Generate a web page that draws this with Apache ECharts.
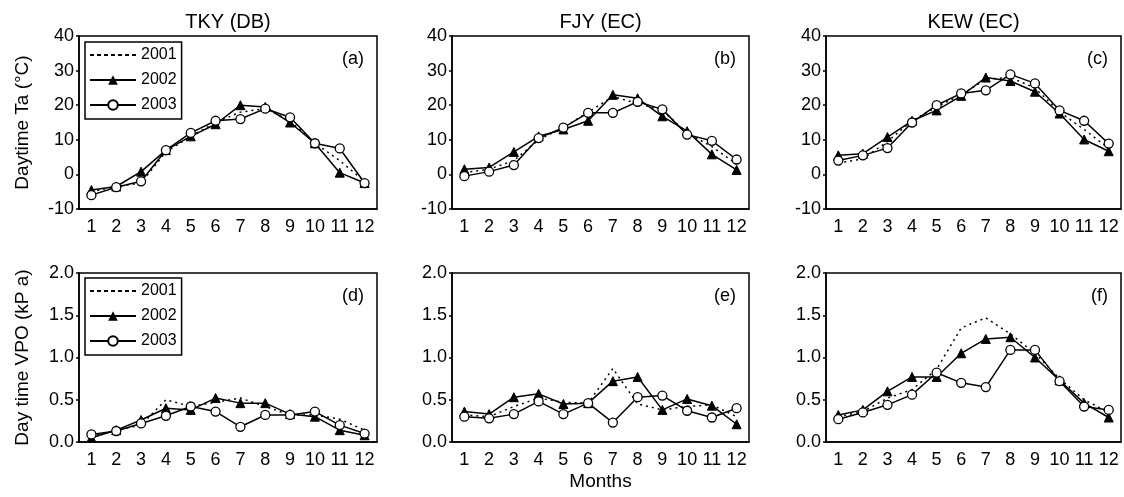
<!DOCTYPE html>
<html>
 <head>
  <title>Daytime Ta and VPD by month</title>
  <script src="https://cdn.jsdelivr.net/npm/echarts@6/dist/echarts.min.js"></script>
  <style>
    html, body, #container {
    width: 100%;
    height: 100%;
    margin: 0;
    padding: 0;
    background: #fff;
    }
  </style>
 </head>

<body>
  <div id="container"></div>
  <script>
    var months = ['1', '2', '3', '4', '5', '6', '7', '8', '9', '10', '11', '12'];
    var years = ['2001', '2002', '2003'];
    var sites = ['TKY (DB)', 'FJY (EC)', 'KEW (EC)'];
    var letters = ['(a)', '(b)', '(c)', '(d)', '(e)', '(f)'];
    var taTicks = [-10, 0, 10, 20, 30, 40];
    var vpdTicks = [0, 0.5, 1.0, 1.5, 2.0];

    // daytime air temperature (deg C)
    var taTky2001 = [-5, -3.5, -2.5, 6.5, 11, 15, 18, 19, 15.5, 9, 4, -2];
    var taTky2002 = [-4.5, -3.5, 0.8, 7, 11, 14.5, 20, 19.5, 15, 9, 0.5, -2.5];
    var taTky2003 = [-6, -3.7, -2, 7, 12, 15.5, 16, 19, 16.5, 9, 7.5, -2.5];

    var taFjy2001 = [0.5, 1.5, 4, 10, 13.5, 18, 22.5, 20.5, 18.5, 12, 8, 3];
    var taFjy2002 = [1.5, 2, 6.5, 11, 13, 15.5, 23, 22, 16.8, 12.5, 5.8, 1.3];
    var taFjy2003 = [-0.5, 0.8, 2.7, 10.5, 13.5, 17.8, 17.8, 21, 18.8, 11.5, 9.7, 4.3];

    var taKew2001 = [3.3, 4.5, 9.5, 15.5, 19.5, 23, 27.5, 28, 25, 18, 13, 7.5];
    var taKew2002 = [5.5, 6, 10.8, 15.5, 18.5, 22.7, 28, 27, 23.9, 17.6, 10.1, 6.7];
    var taKew2003 = [4, 5.5, 7.6, 15, 20, 23.4, 24.3, 28.9, 26.3, 18.5, 15.5, 8.9];

    // daytime vapour pressure deficit (kPa)
    var vpdTky2001 = [0.07, 0.14, 0.2, 0.5, 0.42, 0.47, 0.52, 0.42, 0.32, 0.32, 0.27, 0.14];
    var vpdTky2002 = [0.05, 0.14, 0.26, 0.4, 0.38, 0.52, 0.46, 0.46, 0.33, 0.3, 0.14, 0.08];
    var vpdTky2003 = [0.09, 0.13, 0.22, 0.31, 0.42, 0.36, 0.18, 0.32, 0.32, 0.36, 0.2, 0.1];

    var vpdFjy2001 = [0.32, 0.3, 0.42, 0.52, 0.47, 0.46, 0.87, 0.45, 0.38, 0.42, 0.44, 0.3];
    var vpdFjy2002 = [0.36, 0.33, 0.53, 0.57, 0.45, 0.46, 0.72, 0.77, 0.38, 0.51, 0.43, 0.21];
    var vpdFjy2003 = [0.3, 0.28, 0.33, 0.48, 0.33, 0.46, 0.23, 0.53, 0.55, 0.37, 0.29, 0.4];

    var vpdKew2001 = [0.3, 0.36, 0.52, 0.62, 0.86, 1.35, 1.47, 1.28, 1.05, 0.75, 0.5, 0.35];
    var vpdKew2002 = [0.32, 0.38, 0.6, 0.77, 0.77, 1.05, 1.22, 1.24, 1.0, 0.73, 0.46, 0.29];
    var vpdKew2003 = [0.27, 0.35, 0.44, 0.56, 0.82, 0.7, 0.65, 1.09, 1.09, 0.72, 0.42, 0.38];

    var panelData = [
      [taTky2001, taTky2002, taTky2003],
      [taFjy2001, taFjy2002, taFjy2003],
      [taKew2001, taKew2002, taKew2003],
      [vpdTky2001, vpdTky2002, vpdTky2003],
      [vpdFjy2001, vpdFjy2002, vpdFjy2003],
      [vpdKew2001, vpdKew2002, vpdKew2003]
    ];

    var font = 'Liberation Sans, Arial, sans-serif';
    var lefts = [79, 452, 826];
    var widths = [298, 297, 295];

    var chartDom = document.getElementById('container');
    var myChart = echarts.init(chartDom);

    var grids = [], xAxes = [], yAxes = [], series = [], titles = [];

    for (var i = 0; i < 6; i++) {
      var col = i % 3, row = Math.floor(i / 3);
      var gTop = row === 0 ? 36 : 273;
      var gHeight = row === 0 ? 173 : 169;
      var ticks = row === 0 ? taTicks : vpdTicks;

      grids.push({
        left: lefts[col], top: gTop, width: widths[col], height: gHeight,
        show: true, borderColor: '#000', borderWidth: 1.5, backgroundColor: '#fff'
      });

      xAxes.push({
        type: 'category', gridIndex: i, data: months, boundaryGap: true,
        axisLine: { onZero: false, lineStyle: { color: '#000', width: 1.5 } },
        axisTick: { inside: true, length: 4, lineStyle: { color: '#000', width: 1.5 } },
        axisLabel: { color: '#000', fontSize: 18, fontFamily: font, margin: 9, interval: 0 },
        name: i === 4 ? 'Months' : '',
        nameLocation: 'middle', nameGap: 30,
        nameTextStyle: { color: '#000', fontSize: 19, fontFamily: font }
      });

      yAxes.push({
        type: 'value', gridIndex: i,
        min: ticks[0], max: ticks[ticks.length - 1], interval: ticks[1] - ticks[0],
        splitLine: { show: false },
        axisLine: { show: true, lineStyle: { color: '#000', width: 1.5 } },
        axisTick: { show: true, length: 3, lineStyle: { color: '#000', width: 1.5 } },
        axisLabel: {
          color: '#000', fontSize: 18, fontFamily: font, margin: 5,
          formatter: row === 0 ? '{value}' : function (v) { return v.toFixed(1); }
        },
        name: col === 0 ? (row === 0 ? 'Daytime Ta (°C)' : 'Day time VPO (kP a)') : '',
        nameLocation: 'middle', nameGap: 47,
        nameTextStyle: { color: '#000', fontSize: 19, fontFamily: font }
      });

      var sets = panelData[i];
      series.push({
        name: years[0], type: 'line', xAxisIndex: i, yAxisIndex: i,
        data: sets[0], symbol: 'none',
        lineStyle: { color: '#000', width: 1.5, type: [2, 4] },
        itemStyle: { color: '#000' }, z: 2
      });
      series.push({
        name: years[1], type: 'line', xAxisIndex: i, yAxisIndex: i,
        data: sets[1], symbol: 'triangle', symbolSize: 9,
        lineStyle: { color: '#000', width: 1.5 },
        itemStyle: { color: '#000', borderColor: '#000' }, z: 3
      });
      series.push({
        name: years[2], type: 'line', xAxisIndex: i, yAxisIndex: i,
        data: sets[2], symbol: 'circle', symbolSize: 9, showSymbol: true,
        lineStyle: { color: '#000', width: 1.5 },
        itemStyle: { color: '#fff', borderColor: '#000', borderWidth: 1.3 }, z: 4
      });

      var rightEdge = lefts[col] + widths[col] - 13;
      titles.push({
        text: letters[i], left: rightEdge, top: gTop + 14, textAlign: 'right', padding: 0,
        textStyle: { color: '#000', fontSize: 18, fontWeight: 'normal', fontFamily: font }
      });
      if (row === 0) {
        titles.push({
          text: sites[col], left: lefts[col] + widths[col] / 2, top: 12, textAlign: 'center', padding: 0,
          textStyle: { color: '#000', fontSize: 20, fontWeight: 'normal', fontFamily: font }
        });
      }
    }

    function makeLegend(legendTop) {
      return {
        data: [
          { name: years[0], itemStyle: { opacity: 0 }, lineStyle: { width: 2, type: [4, 3] } },
          { name: years[1], lineStyle: { width: 2 } },
          { name: years[2], lineStyle: { width: 2 } }
        ],
        orient: 'vertical', left: 85, top: legendTop,
        backgroundColor: '#fff', borderColor: '#000', borderWidth: 1.5,
        padding: [5, 5, 6, 4], itemGap: 9, itemWidth: 46, itemHeight: 12,
        selectedMode: false,
        textStyle: { color: '#000', fontSize: 16, fontFamily: font }
      };
    }

    var options = {
      backgroundColor: '#fff',
      animation: false,
      title: titles,
      legend: [makeLegend(42), makeLegend(278)],
      grid: grids,
      xAxis: xAxes,
      yAxis: yAxes,
      series: series
    };

    myChart.setOption(options);
  </script>
</body>
</html>
